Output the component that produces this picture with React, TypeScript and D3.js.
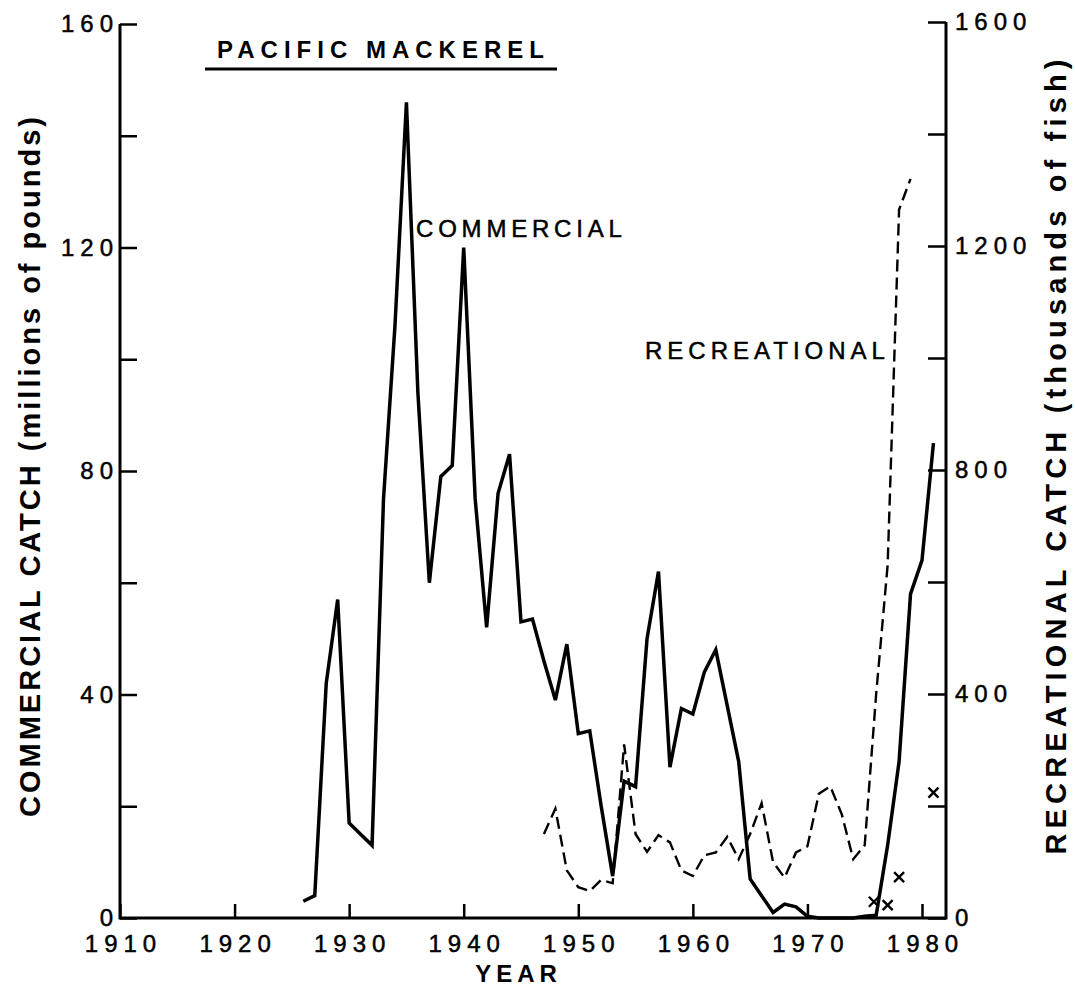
import React, { useEffect, useRef } from "react";
import * as d3 from "d3";

// commercial catch, millions of pounds
const commercialYears = [
  1926, 1927, 1928, 1929, 1930, 1931, 1932, 1933, 1934, 1935, 1936, 1937, 1938, 1939,
  1940, 1941, 1942, 1943, 1944, 1945, 1946, 1947, 1948, 1949, 1950, 1951, 1952, 1953,
  1954, 1955, 1956, 1957, 1958, 1959, 1960, 1961, 1962, 1963, 1964, 1965, 1966, 1967,
  1968, 1969, 1970, 1971, 1972, 1973, 1974, 1975, 1976, 1977, 1978, 1979, 1980, 1981,
];
const commercialValues = [
  3, 4, 42, 57, 17, 15, 13, 75, 106, 146, 94, 60, 79, 81,
  120, 75, 52, 76, 83, 53, 53.5, 46, 39, 49, 33, 33.5, 20, 7.5,
  24.5, 23.5, 50, 62, 27, 37.5, 36.5, 44, 48, 38, 28, 7, 4, 1,
  2.5, 2, 0.3, 0, 0, 0, 0, 0.3, 0.5, 13, 28, 58, 64, 85,
];

// recreational catch, thousands of fish
const recreationalYears = [
  1947, 1948, 1949, 1950, 1951, 1952, 1953, 1954, 1955, 1956, 1957, 1958, 1959, 1960,
  1961, 1962, 1963, 1964, 1965, 1966, 1967, 1968, 1969, 1970, 1971, 1972, 1973, 1974,
  1975, 1976, 1977, 1978, 1979,
];
const recreationalValues = [
  150, 195, 85, 55, 48, 68, 62, 310, 150, 118, 148, 135, 85, 75,
  112, 117, 145, 105, 150, 205, 100, 72, 117, 128, 222, 235, 185, 105,
  130, 400, 630, 1265, 1320,
];

// separate "x" estimates (right axis)
const crossYears = [1975.8, 1977, 1978, 1981];
const crossValues = [29, 23, 73, 224];

const yearTicks = [1910, 1920, 1930, 1940, 1950, 1960, 1970, 1980];
const leftTicks = [0, 20, 40, 60, 80, 100, 120, 140, 160];
const rightTicks = [0, 200, 400, 600, 800, 1000, 1200, 1400, 1600];

const FONT = "'Liberation Sans', Arial, Helvetica, sans-serif";

export default function App() {
  const svgRef = useRef<SVGSVGElement>(null);

  useEffect(() => {
    const width = 1075;
    const height = 986;
    const left = 120;
    const right = 946;
    const bottom = 918;

    const svg = d3.select(svgRef.current);
    svg.selectAll("*").remove();
    svg.attr("width", width).attr("height", height);

    const x = d3.scaleLinear().domain([1910, 1980]).range([left, 922]);
    const yL = d3.scaleLinear().domain([0, 160]).range([bottom, 24]);
    const yR = d3.scaleLinear().domain([0, 1600]).range([bottom, 22]);

    const styleAxis = (g: any, anchorShift: number) => {
      g.select(".domain").remove();
      g.attr("font-family", FONT).attr("font-size", 24);
      g.selectAll(".tick line").attr("stroke", "#000").attr("stroke-width", 2.5);
      g.selectAll(".tick text")
        .attr("fill", "#000")
        .attr("stroke", "#000")
        .attr("stroke-width", 0.5)
        .attr("letter-spacing", 6)
        .attr("dx", anchorShift);
    };

    svg
      .append("g")
      .attr("transform", `translate(${left},0)`)
      .call(
        d3
          .axisLeft(yL)
          .tickValues(leftTicks)
          .tickSize(-17)
          .tickPadding(7)
          .tickFormat((d: any) => (d % 40 === 0 ? String(d) : ""))
      )
      .call((g: any) => styleAxis(g, 6));

    svg
      .append("g")
      .attr("transform", `translate(${right},0)`)
      .call(
        d3
          .axisRight(yR)
          .tickValues(rightTicks)
          .tickSize(-18)
          .tickPadding(9)
          .tickFormat((d: any) => (d % 400 === 0 ? String(d) : ""))
      )
      .call((g: any) => styleAxis(g, 0));

    svg
      .append("g")
      .attr("transform", `translate(0,${bottom})`)
      .call(
        d3
          .axisBottom(x)
          .tickValues(yearTicks)
          .tickSize(-14)
          .tickPadding(17)
          .tickFormat((d: any) => String(d))
      )
      .call((g: any) => styleAxis(g, 3));

    // frame: left, bottom, right
    svg
      .append("path")
      .attr("d", `M${left},${yL(160)}V${bottom}H${right}V${yR(1600)}`)
      .attr("fill", "none")
      .attr("stroke", "#000")
      .attr("stroke-width", 3);

    const commercial = commercialYears.map((yr, i) => [yr, commercialValues[i]]);
    const recreational = recreationalYears.map((yr, i) => [yr, recreationalValues[i]]);

    svg
      .append("path")
      .datum(commercial)
      .attr("fill", "none")
      .attr("stroke", "#000")
      .attr("stroke-width", 3.5)
      .attr(
        "d",
        d3
          .line<number[]>()
          .x((d) => x(d[0]))
          .y((d) => yL(d[1]))
      );

    svg
      .append("path")
      .datum(recreational)
      .attr("fill", "none")
      .attr("stroke", "#000")
      .attr("stroke-width", 2.4)
      .attr("stroke-dasharray", "12,6")
      .attr(
        "d",
        d3
          .line<number[]>()
          .x((d) => x(d[0]))
          .y((d) => yR(d[1]))
      );

    svg
      .selectAll(".cross")
      .data(crossYears.map((yr, i) => [yr, crossValues[i]]))
      .join("path")
      .attr("class", "cross")
      .attr("transform", (d) => `translate(${x(d[0])},${yR(d[1])})`)
      .attr("d", "M-5,-5L5,5M5,-5L-5,5")
      .attr("stroke", "#000")
      .attr("stroke-width", 2.4);

    // title
    svg
      .append("text")
      .attr("x", 217)
      .attr("y", 58)
      .attr("font-family", FONT)
      .attr("font-size", 24)
      .attr("font-weight", "bold")
      .attr("letter-spacing", 6)
      .text("PACIFIC MACKEREL");
    svg
      .append("line")
      .attr("x1", 205)
      .attr("x2", 557)
      .attr("y1", 69)
      .attr("y2", 69)
      .attr("stroke", "#000")
      .attr("stroke-width", 2.8);

    // series labels
    svg
      .append("text")
      .attr("x", 416)
      .attr("y", 237)
      .attr("font-family", FONT)
      .attr("font-size", 24)
      .attr("stroke", "#000")
      .attr("stroke-width", 0.5)
      .attr("letter-spacing", 4.8)
      .text("COMMERCIAL");
    svg
      .append("text")
      .attr("x", 645)
      .attr("y", 359)
      .attr("font-family", FONT)
      .attr("font-size", 24)
      .attr("stroke", "#000")
      .attr("stroke-width", 0.5)
      .attr("letter-spacing", 5)
      .text("RECREATIONAL");

    // axis titles
    svg
      .append("text")
      .attr("x", 516)
      .attr("y", 982)
      .attr("text-anchor", "middle")
      .attr("font-family", FONT)
      .attr("font-size", 24)
      .attr("font-weight", "bold")
      .attr("letter-spacing", 5)
      .attr("dx", 2.5)
      .text("YEAR");

    svg
      .append("text")
      .attr("transform", "translate(40,467) rotate(-90)")
      .attr("text-anchor", "middle")
      .attr("font-family", FONT)
      .attr("font-size", 29)
      .attr("font-weight", "bold")
      .attr("textLength", 700)
      .attr("lengthAdjust", "spacing")
      .text("COMMERCIAL CATCH (millions of pounds)");

    svg
      .append("text")
      .attr("transform", "translate(1066,457) rotate(-90)")
      .attr("text-anchor", "middle")
      .attr("font-family", FONT)
      .attr("font-size", 29)
      .attr("font-weight", "bold")
      .attr("textLength", 795)
      .attr("lengthAdjust", "spacing")
      .text("RECREATIONAL CATCH (thousands of fish)");
  }, []);

  return (
    <div style={{ position: "absolute", left: 0, top: 0, background: "#fff" }}>
      <svg ref={svgRef} style={{ display: "block" }}></svg>
    </div>
  );
}
